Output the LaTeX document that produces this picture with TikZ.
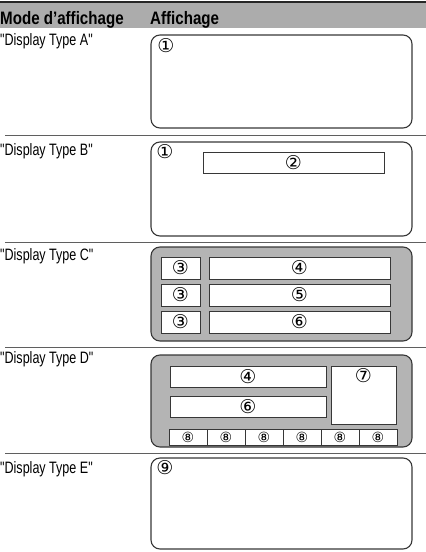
\documentclass[tikz,border=0pt]{standalone}
\usepackage{fontspec}
\newfontfamily\condfont{Liberation Sans}[FakeStretch=0.76]
\newfontfamily\boldcondfont{Liberation Sans Bold}[FakeStretch=0.84]
\newfontfamily\symfont{DejaVu Sans}
\definecolor{headgray}{RGB}{172,172,172}
\definecolor{panelgray}{RGB}{180,180,180}
\definecolor{rulegray}{RGB}{95,95,95}
\definecolor{edgegray}{RGB}{55,55,55}
\tikzset{
    panel/.style={draw=edgegray, line width=1.1pt, rounded corners=9pt, anchor=north west,
        inner sep=0pt, outer sep=0pt, minimum width=261pt},
    field/.style={draw=edgegray, line width=0.9pt, fill=white, anchor=north west,
        inner sep=0pt, outer sep=0pt, font=\symfont\fontsize{19}{19}\selectfont},
    tag/.style={inner sep=0pt, font=\symfont\fontsize{19}{19}\selectfont},
    mode/.style={anchor=base west, inner sep=0pt, font=\condfont\fontsize{16.5}{16.5}\selectfont},
    head/.style={anchor=base west, inner sep=0pt, font=\boldcondfont\fontsize{18}{18}\selectfont}
}
\begin{document}
\begin{tikzpicture}[x=1pt, y=-1pt]
                \useasboundingbox (0,0) rectangle (426,552);
                % header
                \fill[headgray] (0,2) rectangle (426,28);
                \draw[line width=1.6pt, black!85] (0,2) -- (426,2);
                \node[head] (colmode) at (0,24) {Mode d’affichage};
                \node[head] (colview) at (150,24) {Affichage};
                % row separators
                \foreach \y in {135,242,347,453}
                    \draw[rulegray, line width=0.9pt] (5,\y) -- (426,\y);
                % Display Type A
                \node[mode] (modeA) at (0,45) {"Display Type A"};
                \node[panel, minimum height=93pt] (panelA) at (151,35) {};
                \node[tag] (tagA) at (166,46) {①};
                % Display Type B
                \node[mode] (modeB) at (0,155) {"Display Type B"};
                \node[panel, minimum height=94pt] (panelB) at (151,142) {};
                \node[tag] (tagB) at (165,152) {①};
                \node[field, minimum width=181pt, minimum height=21pt] (fieldB) at (203,152) {②};
                % Display Type C
                \node[mode] (modeC) at (0,260) {"Display Type C"};
                \node[panel, fill=panelgray, minimum height=94pt] (panelC) at (151,247) {};
                \foreach \n/\y in {④/257,⑤/284,⑥/311} {
                    \node[field, minimum width=39pt, minimum height=22pt] (sideC\y) at (161,\y) {③};
                    \node[field, minimum width=181pt, minimum height=22pt] (lineC\y) at (209,\y) {\n};
                }
                % Display Type D
                \node[mode] (modeD) at (0,363) {"Display Type D"};
                \node[panel, fill=panelgray, minimum height=92pt] (panelD) at (151,355) {};
                \node[field, minimum width=156pt, minimum height=21pt] (topD) at (170,366) {④};
                \node[field, minimum width=156pt, minimum height=21pt] (midD) at (170,396) {⑥};
                \node[field, minimum width=65pt, minimum height=58pt] (sideD) at (331,366) {};
                \node[tag] (tagD) at (sideD.north) [yshift=-10pt] {⑦};
                \foreach \i in {0,...,5}
                    \node[field, minimum width=38pt, minimum height=16pt,
                        font=\symfont\fontsize{14}{14}\selectfont] (cellD\i) at (169+38*\i,429) {⑧};
                % Display Type E
                \node[mode] (modeE) at (0,473) {"Display Type E"};
                \node[panel, minimum height=91pt] (panelE) at (151,458) {};
                \node[tag] (tagE) at (165,468) {⑨};
            \end{tikzpicture}
\end{document}
